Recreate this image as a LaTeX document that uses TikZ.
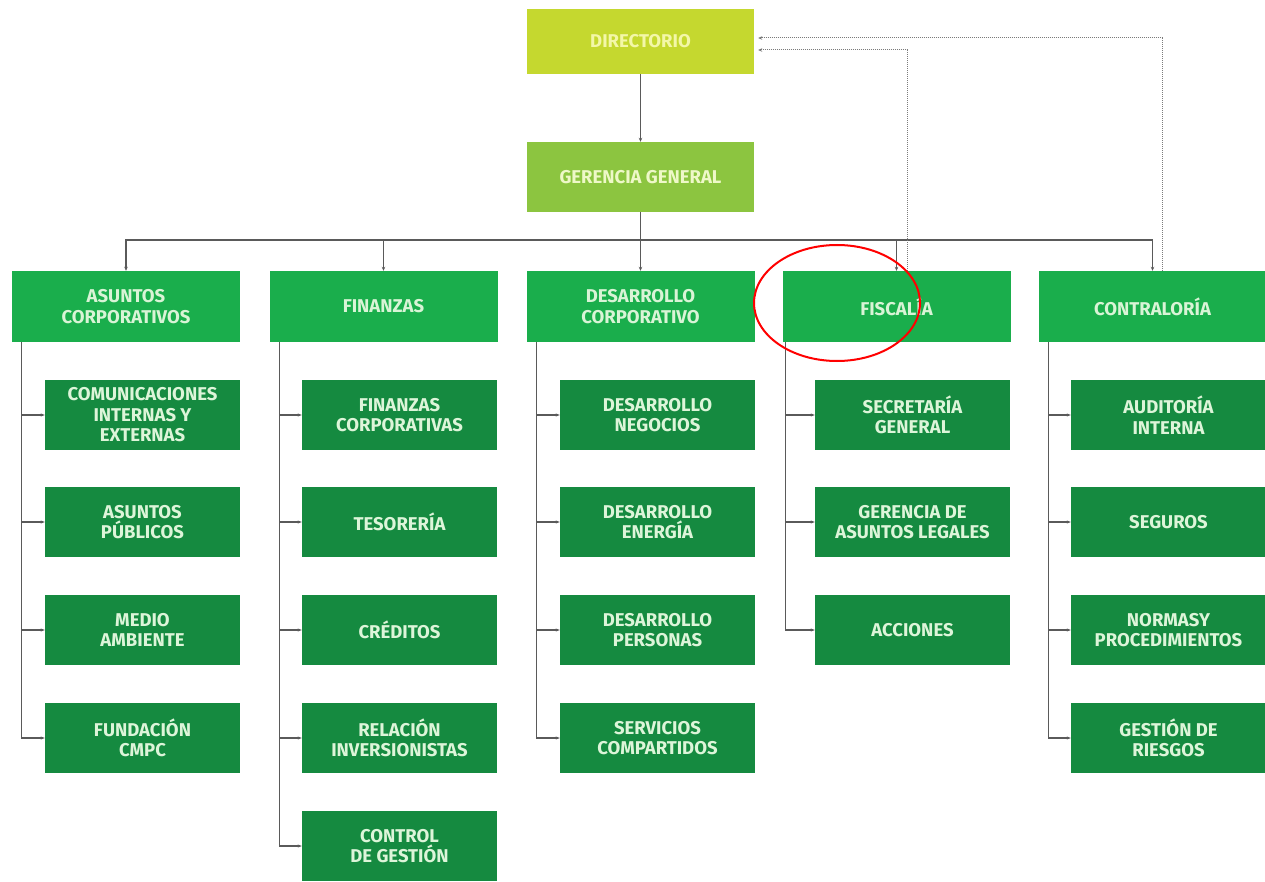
\documentclass[tikz,border=0pt]{standalone}
\usepackage{fontspec}
\setmainfont{Fira Sans}
\usetikzlibrary{arrows.meta,calc}
\definecolor{dirc}{HTML}{C5D82F}
\definecolor{dirt}{HTML}{F3F7A8}
\definecolor{gerc}{HTML}{8CC540}
\definecolor{gert}{HTML}{EEF8C8}
\definecolor{topc}{HTML}{1AAE4C}
\definecolor{topt}{HTML}{D9F4D6}
\definecolor{subc}{HTML}{158A40}
\definecolor{subt}{HTML}{DDF5D9}
\definecolor{linec}{HTML}{5A5A5A}
\tikzset{
  box/.style={inner sep=0pt, align=center, font=\bfseries\fontsize{18.5}{20.5}\selectfont},
  dirbox/.style={box, fill=dirc, text=dirt, minimum width=227pt, minimum height=65pt},
  gerbox/.style={box, fill=gerc, text=gert, minimum width=227pt, minimum height=70pt},
  topbox/.style={box, fill=topc, text=topt, minimum width=228pt, minimum height=71pt},
  subbox/.style={box, fill=subc, text=subt, minimum width=195pt, minimum height=70pt},
  conn/.style={draw=linec, line width=1.3pt, -{Stealth[length=4pt,width=3.5pt]}},
  plain/.style={draw=linec, line width=1.3pt},
  dotc/.style={draw=linec!80, line width=1pt, densely dotted, -{Stealth[length=4pt,width=3.5pt]}},
  tree/.style={draw=linec, line width=1.2pt, -{Stealth[length=4pt,width=3pt]}}
}
\begin{document}
\begin{tikzpicture}[x=1pt,y=-1pt]
\useasboundingbox[fill=white] (0,0) rectangle (1265,882);
\node[dirbox] (dir) at (640.5,41.5) {DIRECTORIO};
\node[gerbox] (ger) at (640.5,177) {GERENCIA GENERAL};
\node[topbox] (t1) at (126,306.5) {ASUNTOS\\CORPORATIVOS};
\node[topbox] (t2) at (383.5,306.5) {FINANZAS};
\node[topbox] (t3) at (640.5,306.5) {DESARROLLO\\CORPORATIVO};
\node[topbox] (t4) at (896.5,306.5) {FISCALÍA};
\node[topbox] (t5) at (1152.5,306.5) {CONTRALORÍA};
% column 1
\node[subbox] (a1) at (142.5,415) {COMUNICACIONES\\INTERNAS Y\\EXTERNAS};
\node[subbox] (a2) at (142.5,522) {ASUNTOS\\PÚBLICOS};
\node[subbox] (a3) at (142.5,630) {MEDIO\\AMBIENTE};
\node[subbox] (a4) at (142.5,738) {FUNDACIÓN\\CMPC};
% column 2
\node[subbox] (b1) at (399.5,415) {FINANZAS\\CORPORATIVAS};
\node[subbox] (b2) at (399.5,522) {TESORERÍA};
\node[subbox] (b3) at (399.5,630) {CRÉDITOS};
\node[subbox] (b4) at (399.5,738) {RELACIÓN\\INVERSIONISTAS};
\node[subbox] (b5) at (399.5,846) {CONTROL\\DE GESTIÓN};
% column 3
\node[subbox] (c1) at (657.5,415) {DESARROLLO\\NEGOCIOS};
\node[subbox] (c2) at (657.5,522) {DESARROLLO\\ENERGÍA};
\node[subbox] (c3) at (657.5,630) {DESARROLLO\\PERSONAS};
\node[subbox] (c4) at (657.5,738) {SERVICIOS\\COMPARTIDOS};
% column 4
\node[subbox] (d1) at (912.5,415) {SECRETARÍA\\GENERAL};
\node[subbox] (d2) at (912.5,522) {GERENCIA DE\\ASUNTOS LEGALES};
\node[subbox] (d3) at (912.5,630) {ACCIONES};
% column 5
\node[subbox] (e1) at (1168.5,415) {AUDITORÍA\\INTERNA};
\node[subbox] (e2) at (1168.5,522) {SEGUROS};
\node[subbox] (e3) at (1168.5,630) {NORMASY\\PROCEDIMIENTOS};
\node[subbox] (e4) at (1168.5,738) {GESTIÓN DE\\RIESGOS};
% main connectors
\draw[conn] (dir.south) -- (ger.north);
\coordinate (bus) at (640.5,240);
\draw[plain] (ger.south) -- (bus);
\foreach \t in {t1,t2,t3,t4,t5}{\draw[conn] (bus) -| (\t.north);}
% dotted reporting lines
\draw[dotc] ([xshift=11pt]t4.north) |- ($(dir.east)+(4,8.5)$);
\draw[dotc] ([xshift=10pt]t5.north) |- ($(dir.east)+(4,-3.5)$);
% trees
\foreach \c in {a1,a2,a3,a4}{\draw[tree] ([xshift=10pt]t1.south west) |- (\c.west);}
\foreach \c in {b1,b2,b3,b4,b5}{\draw[tree] ([xshift=10pt]t2.south west) |- (\c.west);}
\foreach \c in {c1,c2,c3,c4}{\draw[tree] ([xshift=10pt]t3.south west) |- (\c.west);}
\foreach \c in {d1,d2,d3}{\draw[tree] ([xshift=3pt]t4.south west) |- (\c.west);}
\foreach \c in {e1,e2,e3,e4}{\draw[tree] ([xshift=10pt]t5.south west) |- (\c.west);}
% highlight
\draw[red, line width=2pt] (837,303) ellipse [x radius=83, y radius=58];
\end{tikzpicture}
\end{document}
